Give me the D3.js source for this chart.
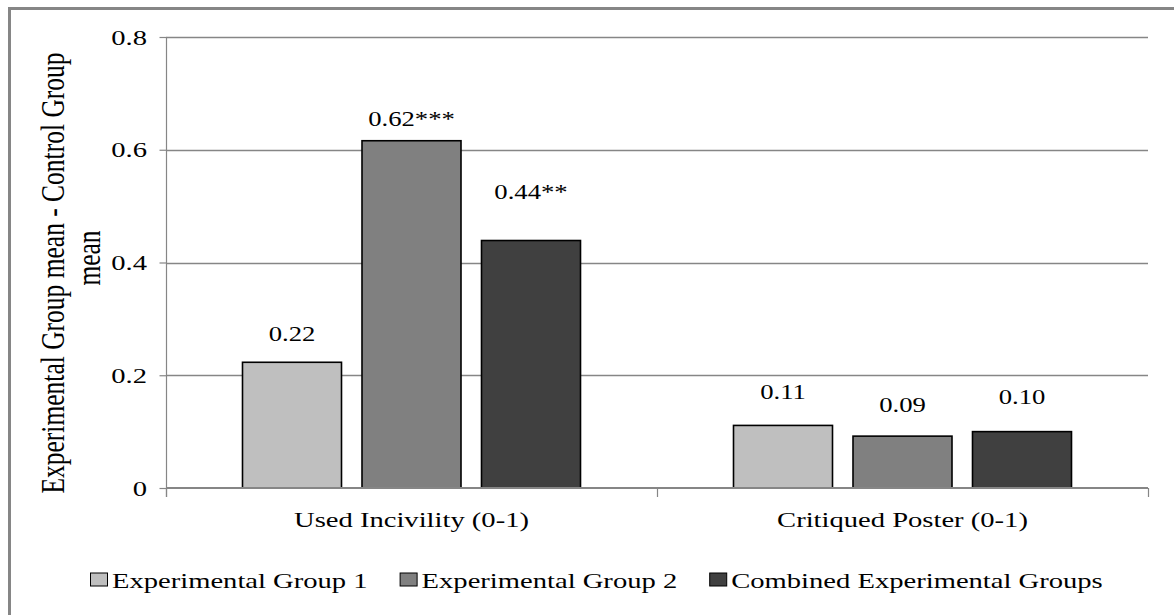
<!DOCTYPE html>
<html>
<head>
<meta charset="utf-8">
<script src="https://cdn.jsdelivr.net/npm/d3@7/dist/d3.min.js"></script>
<style>
  html, body { margin: 0; padding: 0; background: #fff; }
  svg text { font-family: "Liberation Serif", "Times New Roman", serif; fill: #000; }
</style>
</head>
<body>
<svg id="chart" width="1174" height="615"></svg>
<script>
// ---- data ----
const categories = ["Used Incivility (0-1)", "Critiqued Poster (0-1)"];
const seriesNames = ["Experimental Group 1", "Experimental Group 2", "Combined Experimental Groups"];
const group1 = [0.223, 0.111];
const group2 = [0.616, 0.092];
const combined = [0.439, 0.100];
const group1Labels = ["0.22", "0.11"];
const group2Labels = ["0.62***", "0.09"];
const combinedLabels = ["0.44**", "0.10"];
const yTicks = [0, 0.2, 0.4, 0.6, 0.8];
const yTickLabels = ["0", "0.2", "0.4", "0.6", "0.8"];
const yTitleLines = ["Experimental Group mean - Control Group", "mean"];

// ---- layout / style ----
const colors = ["#BFBFBF", "#808080", "#404040"];
const labelLift = [[21.6, 26.3], [14.7, 24.3], [41.7, 27.3]]; // px above bar top (label nudges)
const SX = 1.3;
const plot = { left: 166, right: 1148, top: 37, bottom: 488 };
const grid = "#868686";

const svg = d3.select("#chart");

// outer frame (top & left visible)
svg.append("rect").attr("x", 9.5).attr("y", 8.5).attr("width", 1200).attr("height", 700)
  .attr("fill", "none").attr("stroke", grid).attr("stroke-width", 3);

const y = d3.scaleLinear().domain([0, 0.8]).range([plot.bottom, plot.top]);
const x0 = d3.scaleBand().domain(categories).range([plot.left, plot.right]).paddingInner(0).paddingOuter(0);
const barW = 99, barGap = 20.5;
const x1 = d3.scaleBand().domain(seriesNames)
  .range([-(3 * barW + 2 * barGap) / 2, (3 * barW + 2 * barGap) / 2])
  .paddingInner(barGap / (barW + barGap)).paddingOuter(0);

function stext(parent, tx, ty, str, size, anchor, sx, extra) {
  const g = parent.append("g").attr("transform", `translate(${tx},${ty}) scale(${sx},1)` + (extra || ""));
  return g.append("text").attr("x", 0).attr("y", 0).attr("text-anchor", anchor)
    .style("font-size", size + "px").text(str);
}

// gridlines
svg.append("g").selectAll("line").data(yTicks.filter(d => d > 0)).join("line")
  .attr("x1", plot.left).attr("x2", plot.right)
  .attr("y1", d => Math.round(y(d)) + 0.5).attr("y2", d => Math.round(y(d)) + 0.5)
  .attr("stroke", grid).attr("stroke-width", 1.3);

// y axis via d3
const yAxis = d3.axisLeft(y).tickValues(yTicks).tickSize(7).tickFormat("");
const yg = svg.append("g").attr("transform", `translate(${plot.left + 0.5},0)`).call(yAxis);
yg.select(".domain").attr("stroke", grid).attr("stroke-width", 1.2)
  .attr("d", `M0,${plot.top}V${plot.bottom + 9}`);
yg.selectAll(".tick line").attr("stroke", grid).attr("stroke-width", 1.2);
yTicks.forEach((t, i) => {
  stext(svg, 147, y(t) + 7.5, yTickLabels[i], 22, "end", SX);
});

// bars
const seriesVals = [group1, group2, combined];
const seriesLabels = [group1Labels, group2Labels, combinedLabels];
seriesNames.forEach((s, si) => {
  const g = svg.append("g");
  g.selectAll("rect").data(categories).join("rect")
    .attr("x", c => x0(c) + x0.bandwidth() / 2 + x1(s))
    .attr("y", (c, ci) => y(seriesVals[si][ci]))
    .attr("width", x1.bandwidth())
    .attr("height", (c, ci) => y(0) - y(seriesVals[si][ci]))
    .attr("fill", colors[si]).attr("stroke", "#000").attr("stroke-width", 1.6);
  categories.forEach((c, ci) => {
    stext(svg, x0(c) + x0.bandwidth() / 2 + x1(s) + x1.bandwidth() / 2,
      y(seriesVals[si][ci]) - labelLift[si][ci], seriesLabels[si][ci], 21, "middle", 1.27);
  });
});

// x axis baseline + category ticks
const xb = svg.append("g");
xb.append("line").attr("x1", plot.left).attr("x2", plot.right)
  .attr("y1", plot.bottom).attr("y2", plot.bottom).attr("stroke", grid).attr("stroke-width", 2.2);
const bounds = [plot.left, x0(categories[1]), plot.right];
xb.selectAll("line.t").data(bounds).join("line").attr("class", "t")
  .attr("x1", d => d + 0.5).attr("x2", d => d + 0.5)
  .attr("y1", plot.bottom).attr("y2", plot.bottom + 9).attr("stroke", grid).attr("stroke-width", 1.2);
categories.forEach(c => {
  stext(svg, x0(c) + x0.bandwidth() / 2, 526.5, c, 22, "middle", SX);
});

// y title
stext(svg, 63.5, 273, yTitleLines[0], 25.5, "middle", SX, " rotate(-90)");
stext(svg, 100, 258, yTitleLines[1], 25.5, "middle", SX, " rotate(-90)");

// legend
let lx = 90;
const ly = 588;
seriesNames.forEach((s, i) => {
  svg.append("rect").attr("x", lx + 0.5).attr("y", ly - 15).attr("width", 17).attr("height", 13)
    .attr("fill", colors[i]).attr("stroke", "#000").attr("stroke-width", 1);
  const t = stext(svg, lx + 22, ly, s, 22, "start", SX);
  const w = t.node().getComputedTextLength() * SX;
  lx += 22 + w + 32;
});
</script>
</body>
</html>
